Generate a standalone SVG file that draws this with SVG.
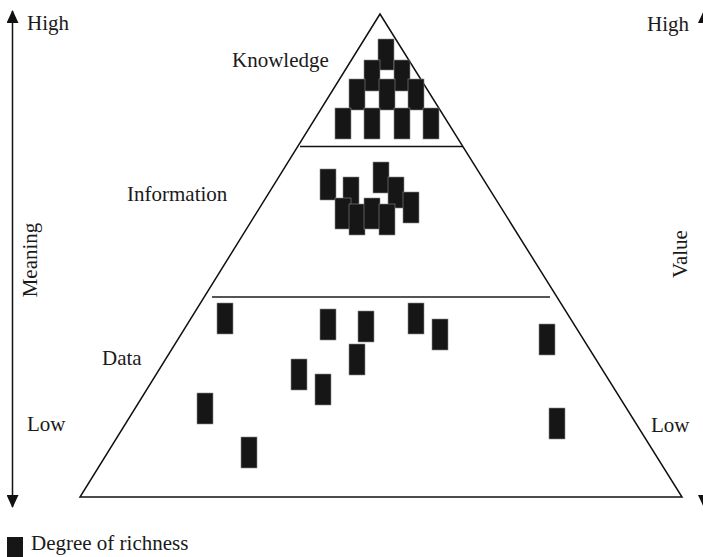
<svg xmlns="http://www.w3.org/2000/svg" width="703" height="557" viewBox="0 0 703 557">
<style>
text{font-family:"Liberation Serif","Times New Roman",serif;font-size:21px;fill:#1a1a1a}
.b{fill:#161616;stroke:#8a8a8a;stroke-width:0.6}
.ln{stroke:#111;stroke-width:1.5;fill:none}
</style>
<defs>
<marker id="ah" viewBox="0 0 13 12" refX="12" refY="6" markerWidth="13" markerHeight="12" markerUnits="userSpaceOnUse" orient="auto-start-reverse">
<path d="M0,0 L13,6 L0,12 Z" fill="#111"/>
</marker>
</defs>
<rect width="703" height="557" fill="#fff"/>
<g id="connectors">
<line x1="12.5" y1="11" x2="12.5" y2="507" class="ln" marker-start="url(#ah)" marker-end="url(#ah)"/>
<line x1="704" y1="11" x2="704" y2="507" class="ln" marker-start="url(#ah)" marker-end="url(#ah)"/>
</g>
<g id="pyramid">
<polygon points="380,14 80,497 682,497" class="ln"/>
<line x1="300" y1="146.5" x2="463" y2="146.5" stroke="#111" stroke-width="1.5"/>
<line x1="212" y1="297" x2="550" y2="297" stroke="#555" stroke-width="2"/>
</g>
<g id="knowledge">
<text x="232" y="67">Knowledge</text>
<rect class="b" x="378" y="39" width="16" height="31"/>
<rect class="b" x="364" y="60" width="16" height="31"/>
<rect class="b" x="394" y="60" width="16" height="31"/>
<rect class="b" x="349" y="79" width="16" height="31"/>
<rect class="b" x="379" y="79" width="16" height="31"/>
<rect class="b" x="408" y="79" width="16" height="31"/>
<rect class="b" x="335" y="108" width="16" height="31"/>
<rect class="b" x="364" y="108" width="16" height="31"/>
<rect class="b" x="394" y="108" width="16" height="31"/>
<rect class="b" x="423" y="108" width="16" height="31"/>
</g>
<g id="information">
<text x="127" y="201">Information</text>
<rect class="b" x="320" y="169" width="16" height="31"/>
<rect class="b" x="343" y="177" width="16" height="31"/>
<rect class="b" x="373" y="162" width="16" height="31"/>
<rect class="b" x="388" y="177" width="16" height="31"/>
<rect class="b" x="403" y="192" width="16" height="31"/>
<rect class="b" x="335" y="198" width="16" height="31"/>
<rect class="b" x="349" y="204" width="16" height="31"/>
<rect class="b" x="364" y="198" width="16" height="31"/>
<rect class="b" x="379" y="204" width="16" height="31"/>
</g>
<g id="data">
<text x="102" y="365">Data</text>
<rect class="b" x="217" y="303" width="16" height="31"/>
<rect class="b" x="320" y="309" width="16" height="31"/>
<rect class="b" x="358" y="311" width="16" height="31"/>
<rect class="b" x="408" y="303" width="16" height="31"/>
<rect class="b" x="432" y="319" width="16" height="31"/>
<rect class="b" x="539" y="324" width="16" height="31"/>
<rect class="b" x="349" y="344" width="16" height="31"/>
<rect class="b" x="291" y="359" width="16" height="31"/>
<rect class="b" x="315" y="374" width="16" height="31"/>
<rect class="b" x="197" y="393" width="16" height="31"/>
<rect class="b" x="241" y="437" width="16" height="31"/>
<rect class="b" x="549" y="408" width="16" height="31"/>
</g>
<g id="axis-labels">
<text x="27" y="30">High</text>
<text x="27" y="431">Low</text>
<text x="37" y="260" text-anchor="middle" transform="rotate(-90 37 260)">Meaning</text>
<text x="647" y="31">High</text>
<text x="651" y="432">Low</text>
<text x="687" y="254" text-anchor="middle" transform="rotate(-90 687 254)">Value</text>
</g>
<g id="legend">
<rect x="7" y="537" width="16" height="25" fill="#161616"/>
<text x="31" y="550">Degree of richness</text>
</g>
</svg>
